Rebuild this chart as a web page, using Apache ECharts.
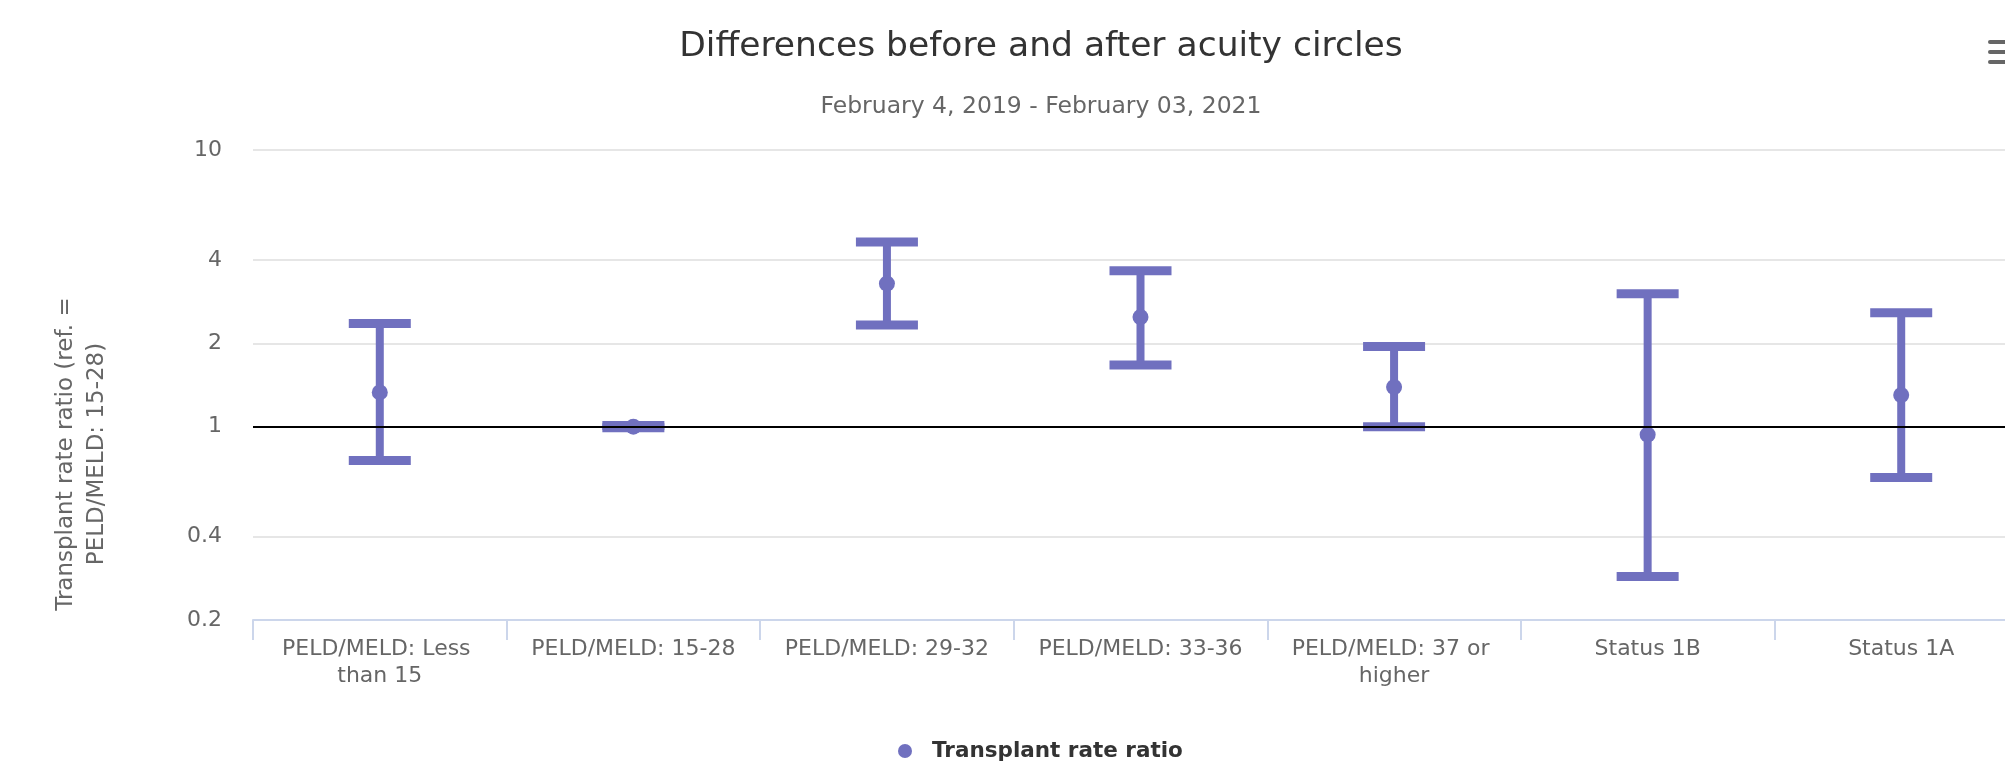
<!DOCTYPE html>
<html>
<head>
<meta charset="utf-8">
<script src="https://cdn.jsdelivr.net/npm/echarts@6/dist/echarts.min.js"></script>
<style>
html, body { margin: 0; padding: 0; background: #fff; }
#chart { width: 2005px; height: 769px; }
</style>
</head>
<body>
<div id="chart"></div>
<script>
// categories and values
var categories = ["PELD/MELD: Less than 15", "PELD/MELD: 15-28", "PELD/MELD: 29-32",
    "PELD/MELD: 33-36", "PELD/MELD: 37 or higher", "Status 1B", "Status 1A"];
var lowValues = [0.755, 0.99, 2.33, 1.67, 1.0, 0.287, 0.655];
var ratioValues = [1.33, 1.0, 3.29, 2.49, 1.39, 0.935, 1.30];
var highValues = [2.36, 1.01, 4.65, 3.66, 1.95, 3.02, 2.58];
var yTicks = [0.2, 0.4, 1, 2, 4, 10];

var font = "DejaVu Sans";
var barColor = "#7070bf";

var errData = [];
for (var i = 0; i < categories.length; i++) {
    errData.push([i, lowValues[i], ratioValues[i], highValues[i]]);
}

// draw stem, two caps and the point
function renderErrorBar(params, api) {
    var x = api.value(0);
    var low = api.coord([x, api.value(1)]);
    var mid = api.coord([x, api.value(2)]);
    var high = api.coord([x, api.value(3)]);
    var half = 31;
    var color = api.visual("color");
    return {
        type: "group",
        children: [
            {type: "line", shape: {x1: high[0], y1: high[1], x2: low[0], y2: low[1]},
                style: {stroke: color, lineWidth: 8}},
            {type: "line", shape: {x1: high[0] - half, y1: high[1], x2: high[0] + half, y2: high[1]},
                style: {stroke: color, lineWidth: 9}},
            {type: "line", shape: {x1: low[0] - half, y1: low[1], x2: low[0] + half, y2: low[1]},
                style: {stroke: color, lineWidth: 9}},
            {type: "circle", shape: {cx: mid[0], cy: mid[1], r: 8},
                style: {fill: color}}
        ]
    };
}

var myChart = echarts.init(document.getElementById("chart"));
var option = {
    animation: false,
    textStyle: {fontFamily: font},
    title: {
        text: "Differences before and after acuity circles",
        subtext: "February 4, 2019 - February 03, 2021",
        left: 1036,
        top: 25,
        textAlign: "center",
        itemGap: 30,
        textStyle: {fontFamily: font, fontSize: 34.5, fontWeight: "normal", color: "#333333", lineHeight: 34},
        subtextStyle: {fontFamily: font, fontSize: 23.5, color: "#666666", lineHeight: 24}
    },
    legend: {
        data: [{name: "Transplant rate ratio", icon: "circle"}],
        left: 893,
        top: 735,
        itemWidth: 44,
        itemHeight: 14,
        textStyle: {fontFamily: font, fontSize: 21.5, fontWeight: "bold", color: "#333333"}
    },
    grid: {
        left: 253,
        right: -23,
        top: 150,
        bottom: 149,
        containLabel: false,
        outerBoundsMode: "none"
    },
    xAxis: {
        type: "category",
        data: categories,
        boundaryGap: true,
        axisLine: {lineStyle: {color: "#ccd6eb", width: 2}},
        axisTick: {show: true, length: 20, lineStyle: {color: "#ccd6eb", width: 2}},
        axisLabel: {
            interval: 0, color: "#666666", fontFamily: font, fontSize: 22,
            lineHeight: 27, margin: 16, width: 230, overflow: "break"
        },
        splitLine: {show: false}
    },
    yAxis: {
        type: "log",
        logBase: 10,
        min: 0.2,
        max: 10,
        axisLine: {show: false},
        axisTick: {show: false, customValues: yTicks},
        axisLabel: {customValues: yTicks, color: "#666666", fontFamily: font, fontSize: 22, margin: 31},
        splitLine: {show: true, lineStyle: {color: "#e6e6e6", width: 2}},
        name: "Transplant rate ratio (ref. =\nPELD/MELD: 15-28)",
        nameLocation: "middle",
        nameRotate: 90,
        nameGap: 140,
        nameTextStyle: {
            fontFamily: font, fontSize: 23, color: "#666666", lineHeight: 31,
            padding: [0, 138, 0, 0]
        }
    },
    series: [
        {
            // reference line at ratio 1
            type: "scatter",
            data: [],
            z: 1,
            silent: true,
            markLine: {
                silent: true,
                symbol: "none",
                label: {show: false},
                lineStyle: {color: "#000000", width: 2, type: "solid"},
                data: [{yAxis: 1}]
            }
        },
        {
            name: "Transplant rate ratio",
            type: "custom",
            z: 3,
            itemStyle: {color: barColor},
            encode: {x: 0, y: [1, 2, 3]},
            renderItem: renderErrorBar,
            data: errData
        }
    ],
    graphic: [
        {type: "line", shape: {x1: 1990, y1: 42, x2: 2010, y2: 42}, style: {stroke: "#666666", lineWidth: 4, lineCap: "round"}},
        {type: "line", shape: {x1: 1990, y1: 52, x2: 2010, y2: 52}, style: {stroke: "#666666", lineWidth: 4, lineCap: "round"}},
        {type: "line", shape: {x1: 1990, y1: 62, x2: 2010, y2: 62}, style: {stroke: "#666666", lineWidth: 4, lineCap: "round"}}
    ]
};
myChart.setOption(option);
</script>
</body>
</html>
